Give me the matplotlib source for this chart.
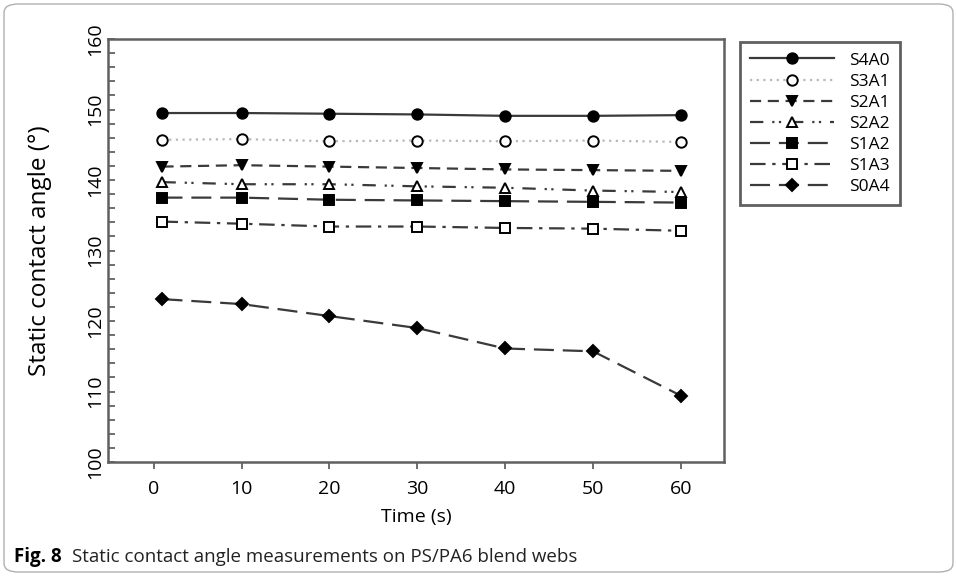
import matplotlib
matplotlib.use('Agg')
import matplotlib.pyplot as plt
from matplotlib.patches import FancyBboxPatch
from matplotlib.ticker import MultipleLocator

# --- данные ---
TIME = [1, 10, 20, 30, 40, 50, 60]
S4A0 = [149.5, 149.5, 149.4, 149.3, 149.1, 149.1, 149.2]
S3A1 = [145.7, 145.8, 145.5, 145.6, 145.5, 145.6, 145.4]
S2A1 = [141.9, 142.1, 141.9, 141.7, 141.5, 141.4, 141.3]
S2A2 = [139.7, 139.4, 139.4, 139.1, 138.9, 138.5, 138.3]
S1A2 = [137.5, 137.5, 137.2, 137.1, 137.0, 136.9, 136.8]
S1A3 = [134.1, 133.8, 133.4, 133.4, 133.2, 133.1, 132.8]
S0A4 = [123.1, 122.4, 120.7, 119.0, 116.1, 115.7, 109.4]
LABELS = ['S4A0', 'S3A1', 'S2A1', 'S2A2', 'S1A2', 'S1A3', 'S0A4']
CAPTION_BOLD = 'Fig. 8'
CAPTION = 'Static contact angle measurements on PS/PA6 blend webs'

plt.rcParams['font.family'] = ['Open Sans', 'DejaVu Sans']

fig = plt.figure(figsize=(9.57, 5.76), dpi=100)
ax = fig.add_axes([108 / 957, 1 - 462 / 576, (724 - 108) / 957, (462 - 39) / 576])

# рамка всего рисунка
fig.patches.append(FancyBboxPatch((4 / 957, 4 / 576), 1 - 8 / 957, 1 - 8 / 576,
                                  boxstyle='round,pad=0,rounding_size=0.015',
                                  transform=fig.transFigure, fill=False,
                                  edgecolor='#b0b0b0', linewidth=1.0))

LINE = '#3a3a3a'
styles = [
    dict(linestyle='-', marker='o', mfc='black', color=LINE),
    dict(linestyle=(0, (1, 2)), marker='o', mfc='white', color='#b8b8b8'),
    dict(linestyle=(0, (5, 3)), marker='v', mfc='black', color=LINE),
    dict(linestyle=(0, (6, 4, 1, 2, 1, 4)), marker='^', mfc='white', color=LINE),
    dict(linestyle=(0, (9, 4)), marker='s', mfc='black', color=LINE),
    dict(linestyle=(0, (7, 3, 1.5, 3)), marker='s', mfc='white', color=LINE),
    dict(linestyle=(0, (9, 4)), marker='D', mfc='black', color=LINE),
]
series = [S4A0, S3A1, S2A1, S2A2, S1A2, S1A3, S0A4]
handles = []
for vals, lab, st in zip(series, LABELS, styles):
    ms = 6.5 if st['marker'] == 'D' else 7.5
    h, = ax.plot(TIME, vals, linestyle=st['linestyle'], color=st['color'],
                 linewidth=1.6, marker=st['marker'], markersize=ms,
                 markerfacecolor=st['mfc'], markeredgecolor='black',
                 markeredgewidth=1.4, label=lab)
    handles.append(h)

ax.set_xlim(-5.2, 64.9)
ax.set_ylim(100, 160)
ax.set_xticks(range(0, 61, 10))
ax.yaxis.set_major_locator(MultipleLocator(10))
ax.yaxis.set_minor_locator(MultipleLocator(2))
ax.tick_params(axis='y', which='both', direction='in', length=5, width=1.2,
               color='#555555', labelsize=14, labelrotation=90, pad=3)
ax.tick_params(axis='x', which='major', direction='out', length=5, width=1.2,
               color='#555555', labelsize=14, pad=8)
for lbl in ax.get_yticklabels():
    lbl.set_verticalalignment('center')
for sp in ax.spines.values():
    sp.set_color('#606060')
    sp.set_linewidth(1.8)

ax.set_xlabel('Time (s)', fontsize=14, labelpad=7)
ax.set_ylabel('Static contact angle (°)', fontsize=17.5, labelpad=24)

leg = fig.legend(handles=handles, loc='upper left',
                 bbox_to_anchor=(740 / 957, 1 - 42 / 576), fontsize=12.5,
                 handlelength=4.8, labelspacing=0.28, borderpad=0.6,
                 handletextpad=0.9, fancybox=False, framealpha=1,
                 borderaxespad=0)
leg.get_frame().set_edgecolor('#606060')
leg.get_frame().set_linewidth(2.0)

# подпись
t1 = fig.text(14 / 957, 1 - 557 / 576, CAPTION_BOLD, fontsize=13.5, fontweight='bold',
              va='center', ha='left')
fig.canvas.draw()
bb = t1.get_window_extent()
fig.text((bb.x1 + 10) / 957, 1 - 557 / 576, CAPTION, fontsize=13.5, va='center', ha='left',
         color='#222222')

fig.savefig('out.png', dpi=100)
